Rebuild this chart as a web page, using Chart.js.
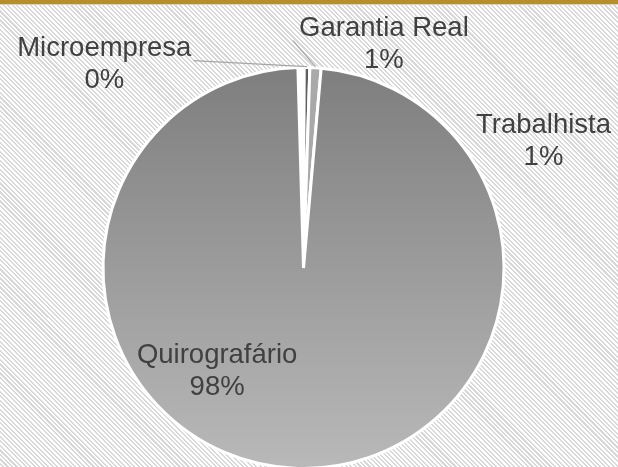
<!DOCTYPE html>
<html lang="pt-BR">
<head>
<meta charset="utf-8">
<script src="https://cdn.jsdelivr.net/npm/chart.js@4.4.1/dist/chart.umd.min.js"></script>
<style>
  html, body { margin: 0; padding: 0; overflow: hidden; }
  body {
    width: 618px; height: 467px; position: relative;
    background: repeating-linear-gradient(45deg, #ffffff 0px, #ffffff 1.7px, #d8d8d8 1.7px, #d8d8d8 3.2px);
  }
  #topBar {
    position: absolute; left: 0; top: 0; width: 618px; height: 4px;
    background: #b78f2a; border-bottom: 1px solid #d8d2c4; z-index: 2;
  }
  #wrap { position: absolute; left: 0; top: 0; }
</style>
</head>
<body>
<div id="topBar"></div>
<div id="wrap"><canvas id="chartPie" width="618" height="472"></canvas></div>
<script>
// dados (ordem no sentido horario a partir do topo)
const categorias = ["Trabalhista", "Microempresa", "Garantia Real", "Quirografário"];
const valores    = [0.5, 0.45, 0.9, 98.15];
const cores      = ["#ffffff", "#5f5f5f", "#a9a9a9", null]; // null = gradiente

// posicao dos rotulos: angulo (graus, horario a partir do topo) e distancia em raios
const LABEL_POS = {
  "Trabalhista":   { ang: 62.2,   dist: 1.353, leader: false },
  "Microempresa":  { ang: -44.4,  dist: 1.42,  leader: "right" },
  "Garantia Real": { ang: 19.8,   dist: 1.184, leader: "left" },
  "Quirografário": { ang: -140.2, dist: 0.673, leader: false }
};

const TEXT_CLR = "#404040";
const FONT = "27.5px 'Liberation Sans', Arial, sans-serif";
const LINE_H = 32;

const total = valores.reduce((a, b) => a + b, 0);

function bigSliceFill(ctx){
  const chart = ctx.chart;
  const area = chart.chartArea;
  if (!area) return "#9a9a9a";
  const g = chart.ctx.createLinearGradient(0, area.top, 0, area.bottom);
  g.addColorStop(0, "#7e7e7e");
  g.addColorStop(1, "#b9b9b9");
  return g;
}

const labelsPlugin = {
  id: "pieLabels",
  afterDatasetsDraw(chart){
    const ctx = chart.ctx;
    const meta = chart.getDatasetMeta(0);
    ctx.save();
    ctx.font = FONT;
    ctx.fillStyle = TEXT_CLR;
    ctx.textAlign = "center";
    ctx.textBaseline = "middle";
    meta.data.forEach((arc, i) => {
      const nome = categorias[i];
      const pos = LABEL_POS[nome];
      const { x: cx, y: cy, outerRadius, startAngle, endAngle } = arc.getProps(["x","y","outerRadius","startAngle","endAngle"], true);
      const a = (pos.ang - 90) * Math.PI / 180;
      const bx = cx + Math.cos(a) * outerRadius * pos.dist;
      const by = cy + Math.sin(a) * outerRadius * pos.dist;
      const pct = Math.round(valores[i] / total * 100) + "%";
      const y1 = by - LINE_H / 2, y2 = by + LINE_H / 2;
      ctx.fillText(nome, bx, y1);
      ctx.fillText(pct, bx, y2);

      if (pos.leader){
        const w = ctx.measureText(nome).width;
        const mid = (startAngle + endAngle) / 2;
        const ex = cx + Math.cos(mid) * (outerRadius + 1);
        const ey = cy + Math.sin(mid) * (outerRadius + 1);
        const sx = pos.leader === "right" ? bx + w / 2 + 2 : bx - w / 2 - 6;
        const sy = y1 + 12;
        ctx.beginPath();
        ctx.strokeStyle = "#a6a6a6";
        ctx.lineWidth = 1.2;
        ctx.moveTo(sx, sy);
        ctx.lineTo(ex, ey);
        ctx.stroke();
      }
    });
    ctx.restore();
  }
};

new Chart(document.getElementById("chartPie"), {
  type: "pie",
  data: {
    labels: categorias,
    datasets: [{
      data: valores,
      backgroundColor: (c) => cores[c.dataIndex] || bigSliceFill(c),
      borderColor: "#ffffff",
      borderWidth: 3
    }]
  },
  options: {
    responsive: false,
    animation: false,
    rotation: -1.6,
    layout: { padding: { top: 66, bottom: 2, left: 0, right: 11 } },
    plugins: {
      legend: { display: false },
      tooltip: { enabled: false }
    }
  },
  plugins: [labelsPlugin]
});
</script>
</body>
</html>
